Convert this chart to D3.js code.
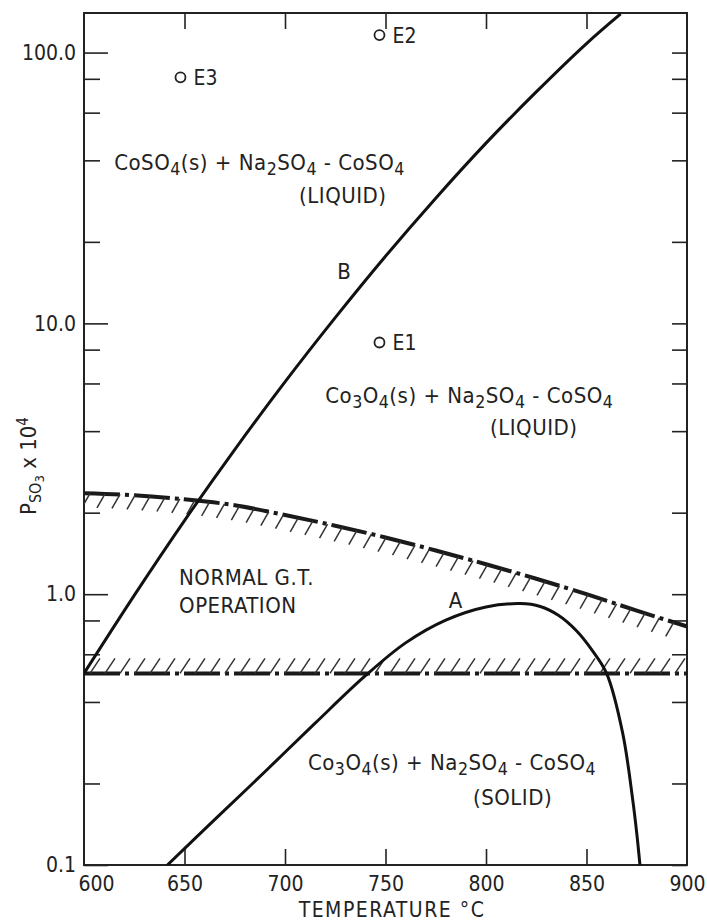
<!DOCTYPE html>
<html>
<head>
<meta charset="utf-8">
<script src="https://cdn.jsdelivr.net/npm/d3@7"></script>
<style>
  body { margin: 0; background: #fff; }
  text { font-family: "DejaVu Sans Condensed", "DejaVu Sans", sans-serif; fill: #222; }
</style>
</head>
<body>
<script>
// page size
var width = 707, height = 923;
var margin = {top: 13, right: 20, bottom: 58, left: 84};
var plotW = width - margin.left - margin.right,
    plotH = height - margin.top - margin.bottom;

// axis ticks
var xTicks = [600, 650, 700, 750, 800, 850, 900];
var yMajor = [0.1, 1, 10, 100];
var yMajorLabels = ["0.1", "1.0", "10.0", "100.0"];
var yMinor = [0.2, 0.4, 0.6, 0.8, 2, 4, 6, 8, 20, 40, 60, 80];

// curve B (CoSO4 / Co3O4 boundary)
var bTemp = [600, 625, 650, 675, 700, 725, 750, 775, 800, 825, 850, 867];
var bP    = [0.51, 0.99, 1.87, 3.42, 6.08, 10.5, 17.7, 29.0, 46.3, 71.6, 108, 139];

// curve A (liquid / solid boundary)
var aTemp = [641.5, 665, 690, 715, 740, 760, 780, 800, 817, 827, 836, 845, 853, 860, 868, 873, 875, 876.6];
var aP    = [0.1, 0.147, 0.221, 0.334, 0.50, 0.661, 0.802, 0.897, 0.923, 0.901, 0.836, 0.733, 0.618, 0.51, 0.307, 0.174, 0.131, 0.1];

// upper limit of normal gas turbine operation
var upTemp = [600, 625, 650, 675, 700, 725, 750, 775, 800, 825, 850, 875, 900];
var upP    = [2.36, 2.32, 2.24, 2.13, 1.96, 1.79, 1.62, 1.45, 1.29, 1.14, 1.0, 0.87, 0.76];

// lower limit of normal operation
var lowTemp = [600, 900];
var lowP    = [0.51, 0.51];

// experiments
var expNames = ["E1", "E2", "E3"];
var expTemp  = [747, 747, 648];
var expP     = [8.5, 116, 81];

var svg = d3.select("body").append("svg")
    .attr("width", width)
    .attr("height", height);

var x = d3.scaleLinear().domain([600, 900]).range([margin.left, margin.left + plotW]);
var y = d3.scaleLog().domain([0.1, 140]).range([margin.top + plotH, margin.top]);

svg.append("clipPath").attr("id", "clip")
  .append("rect")
    .attr("x", x(600)).attr("y", y(140))
    .attr("width", plotW).attr("height", plotH);

// axes, ticks inside the frame
function noDomain(g) { g.select(".domain").remove(); }

svg.append("g")
    .attr("transform", "translate(0," + y(0.1) + ")")
    .call(d3.axisBottom(x).tickValues(xTicks).tickSize(-16).tickSizeOuter(0).tickPadding(11).tickFormat(d3.format("d")))
    .call(noDomain)
    .call(function(g) {
      g.selectAll("text").style("font-size", "21px").style("font-family", null);
      g.selectAll(".tick").filter(function(d) { return d === 600; }).select("text").attr("dx", 12);
      g.selectAll(".tick").filter(function(d) { return d === 600 || d === 900; }).select("line").remove();
    });

svg.append("g")
    .attr("transform", "translate(0," + y(140) + ")")
    .call(d3.axisTop(x).tickValues(xTicks.slice(1, -1)).tickSize(-16).tickFormat(""))
    .call(noDomain);

svg.append("g")
    .attr("transform", "translate(" + x(600) + ",0)")
    .call(d3.axisLeft(y).tickValues(yMajor).tickSize(-24).tickPadding(8)
      .tickFormat(function(d, i) { return yMajorLabels[i]; }))
    .call(noDomain)
    .call(function(g) { g.selectAll("text").style("font-size", "21px").style("font-family", null); });

svg.append("g")
    .attr("transform", "translate(" + x(600) + ",0)")
    .call(d3.axisLeft(y).tickValues(yMinor).tickSize(-16).tickFormat(""))
    .call(noDomain);

svg.append("g")
    .attr("transform", "translate(" + x(900) + ",0)")
    .call(d3.axisRight(y).tickValues(yMajor.concat(yMinor)).tickSize(-15).tickFormat(""))
    .call(noDomain);

svg.selectAll(".tick line").attr("stroke", "#222").attr("stroke-width", 1.6);

// frame
svg.append("rect")
    .attr("x", x(600)).attr("y", y(140))
    .attr("width", x(900) - x(600)).attr("height", y(0.1) - y(140))
    .attr("fill", "none").attr("stroke", "#222").attr("stroke-width", 2);

var plot = svg.append("g").attr("clip-path", "url(#clip)");

function series(t, p) { return t.map(function(d, i) { return [d, p[i]]; }); }

var line = d3.line()
    .x(function(d) { return x(d[0]); })
    .y(function(d) { return y(d[1]); })
    .curve(d3.curveMonotoneX);

var smooth = d3.line()
    .x(function(d) { return x(d[0]); })
    .y(function(d) { return y(d[1]); })
    .curve(d3.curveCatmullRom.alpha(0.5));

// dash-dot limits with hatching
function limit(data, side) {
  var path = plot.append("path")
      .attr("d", line(data))
      .attr("fill", "none")
      .attr("stroke", "#1a1a1a")
      .attr("stroke-width", 4)
      .attr("stroke-dasharray", "36,5,4,5");
  var node = path.node(), len = node.getTotalLength();
  var hatch = d3.range(6, len, 15).map(function(l) { return node.getPointAtLength(l); });
  plot.selectAll(null)
      .data(hatch)
    .enter().append("line")
      .attr("x1", function(d) { return d.x; })
      .attr("y1", function(d) { return d.y; })
      .attr("x2", function(d) { return side > 0 ? d.x - 8 : d.x + 10; })
      .attr("y2", function(d) { return side > 0 ? d.y + 14 : d.y - 15; })
      .attr("stroke", "#333")
      .attr("stroke-width", 1.5);
}
limit(series(upTemp, upP), 1);
limit(series(lowTemp, lowP), -1);

// phase boundaries
plot.append("path")
    .attr("d", smooth(series(bTemp, bP)))
    .attr("fill", "none").attr("stroke", "#111").attr("stroke-width", 3);

plot.append("path")
    .attr("d", smooth(series(aTemp, aP)))
    .attr("fill", "none").attr("stroke", "#111").attr("stroke-width", 3);

// experiment points
var pts = svg.selectAll(".exp")
    .data(expNames)
  .enter().append("g")
    .attr("class", "exp")
    .attr("transform", function(d, i) { return "translate(" + x(expTemp[i]) + "," + y(expP[i]) + ")"; });
pts.append("circle").attr("r", 5).attr("fill", "none").attr("stroke", "#222").attr("stroke-width", 1.8);
pts.append("text").attr("x", 13).attr("dy", "0.36em").style("font-size", "21px").text(function(d) { return d; });

// labels with subscripts: [text, sub]
function label(t, p, parts, size, anchor) {
  var txt = svg.append("text")
      .attr("x", x(t)).attr("y", y(p))
      .attr("text-anchor", anchor || "start")
      .style("font-size", size + "px")
      .style("letter-spacing", "0.5px");
  var shifted = false;
  parts.forEach(function(s) {
    var sub = s[1];
    var ts = txt.append("tspan").text(s[0]);
    if (sub && !shifted) { ts.attr("dy", 5).style("font-size", (size * 0.8) + "px"); shifted = true; }
    else if (sub) { ts.style("font-size", (size * 0.8) + "px"); }
    else if (shifted) { ts.attr("dy", -5); shifted = false; }
  });
  return txt;
}

var coso4 = [["CoSO"], ["4", 1], ["(s) + Na"], ["2", 1], ["SO"], ["4", 1], [" - CoSO"], ["4", 1]];
var co3o4 = [["Co"], ["3", 1], ["O"], ["4", 1], ["(s) + Na"], ["2", 1], ["SO"], ["4", 1], [" - CoSO"], ["4", 1]];

label(615, 36.8, coso4, 22);
label(707, 27.9, [["(LIQUID)"]], 22);
label(720, 5.08, co3o4, 22);
label(802, 3.87, [["(LIQUID)"]], 22);
label(711.4, 0.224, co3o4, 22);
label(793.5, 0.167, [["(SOLID)"]], 22);
label(647.3, 1.08, [["NORMAL G.T."]], 22);
label(647.3, 0.853, [["OPERATION"]], 22);
label(785, 0.889, [["A"]], 22, "middle");
label(729.5, 14.6, [["B"]], 22, "middle");

// axis titles
svg.append("text")
    .attr("x", 392).attr("y", 917)
    .attr("text-anchor", "middle")
    .style("font-size", "21px")
    .style("letter-spacing", "1.5px")
    .text("TEMPERATURE \u00b0C");

var yt = svg.append("text")
    .attr("transform", "translate(36,466) rotate(-90)")
    .attr("text-anchor", "middle")
    .style("font-size", "22px");
yt.append("tspan").text("P");
yt.append("tspan").attr("dy", 5).style("font-size", "16px").text("SO");
yt.append("tspan").attr("dy", 3).style("font-size", "13px").text("3");
yt.append("tspan").attr("dy", -8).text(" x 10");
yt.append("tspan").attr("dy", -8).style("font-size", "15px").text("4");
</script>
</body>
</html>
